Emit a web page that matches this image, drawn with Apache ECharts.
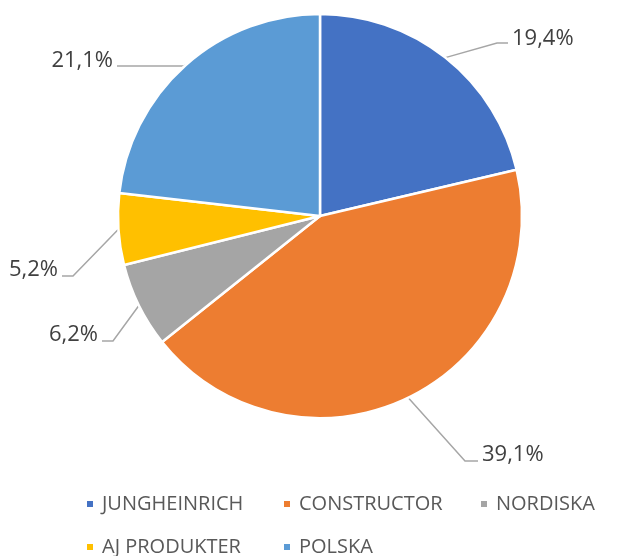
<!DOCTYPE html>
<html>
<head>
<meta charset="utf-8">
<script src="https://cdn.jsdelivr.net/npm/echarts@6/dist/echarts.min.js"></script>
<style>html,body{margin:0;padding:0;background:#fff;}#c{width:623px;height:556px;}</style>
</head>
<body>
<div id="c"></div>
<script>
const categories = ['JUNGHEINRICH', 'CONSTRUCTOR', 'NORDISKA', 'AJ PRODUKTER', 'POLSKA'];
const shares = [19.4, 39.1, 6.2, 5.2, 21.1];
const colors = ['#4472C4', '#ED7D31', '#A5A5A5', '#FFC000', '#5B9BD5'];

// label placement (layout only): text anchor, line end and elbow
const labelSpots = [
  {tx: 512, ty: 39, align: 'left', lx: 508, ly: 43, ex: 497},
  {tx: 482, ty: 455, align: 'left', lx: 478, ly: 461, ex: 465},
  {tx: 98, ty: 335, align: 'right', lx: 102, ly: 341, ex: 113},
  {tx: 58, ty: 270, align: 'right', lx: 62, ly: 276, ex: 73},
  {tx: 113, ty: 61, align: 'right', lx: 117, ly: 66, ex: 183}
];
const legendSpots = [
  {left: 85, top: 494}, {left: 282, top: 494}, {left: 479, top: 494},
  {left: 85, top: 537}, {left: 282, top: 537}
];

const chart = echarts.init(document.getElementById('c'), null, {renderer: 'canvas'});
const fontFam = "'Open Sans', 'Liberation Sans', sans-serif";
chart.setOption({
  animation: false,
  color: colors,
  legend: categories.map((name, i) => ({
    data: [name],
    left: legendSpots[i].left,
    top: legendSpots[i].top,
    padding: 0,
    icon: 'rect',
    itemWidth: 8,
    itemHeight: 8,
    itemGap: 0,
    textStyle: {color: '#595959', fontSize: 20, fontFamily: fontFam, padding: [0, 0, 0, 3]}
  })),
  series: [{
    type: 'pie',
    center: [320, 216],
    radius: [0, 202],
    startAngle: 90,
    clockwise: true,
    avoidLabelOverlap: false,
    itemStyle: {borderColor: '#fff', borderWidth: 2.5},
    label: {
      show: true,
      position: 'outside',
      color: '#404040',
      fontSize: 22,
      fontFamily: fontFam,
      formatter: p => p.value.toFixed(1).replace('.', ',') + '%'
    },
    labelLine: {show: true, length: 20, length2: 10, lineStyle: {color: '#A6A6A6', width: 1.5}},
    labelLayout: function (params) {
      const s = labelSpots[params.dataIndex];
      const pts = params.labelLinePoints;
      const out = {x: s.tx, y: s.ty, align: s.align, verticalAlign: 'middle'};
      if (pts && pts[0]) {
        out.labelLinePoints = [pts[0], [s.ex, s.ly], [s.lx, s.ly]];
      }
      return out;
    },
    data: categories.map((name, i) => ({name: name, value: shares[i]}))
  }]
});
</script>
</body>
</html>
